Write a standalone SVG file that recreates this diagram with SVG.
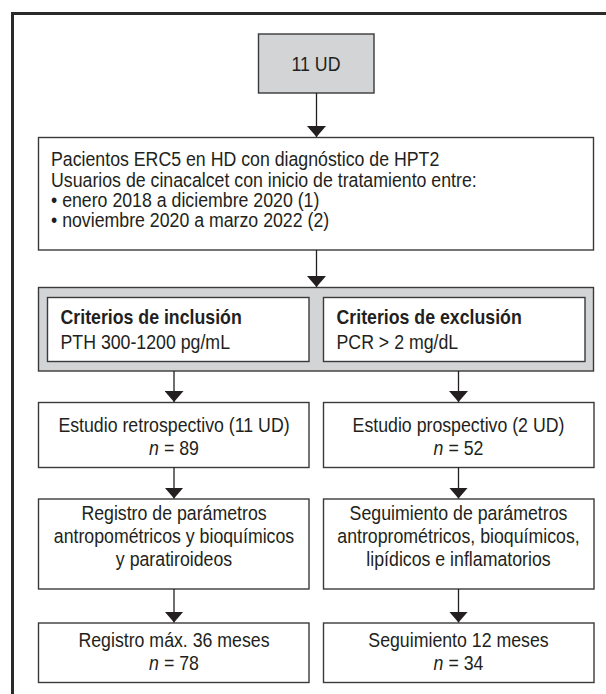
<svg xmlns="http://www.w3.org/2000/svg" width="606" height="694" viewBox="0 0 606 694">
<style>
text{font-family:"Liberation Sans",Arial,sans-serif;font-size:19.5px;fill:#231f20}
.c{text-anchor:middle}
.b{font-weight:bold}
.i{font-style:italic}
.box{fill:#fff;stroke:#3a3a3a;stroke-width:1.4}
.gray{fill:#d3d4d6;stroke:#3a3a3a;stroke-width:1.4}
.conn line{stroke:#231f20;stroke-width:1.3;marker-end:url(#ah)}
</style>
<defs>
<marker id="ah" markerUnits="userSpaceOnUse" viewBox="0 0 11 19" markerWidth="11" markerHeight="19" refX="11" refY="9.5" orient="auto">
<path d="M0,0 L11,9.5 L0,19 Z" fill="#231f20"/>
</marker>
</defs>
<rect width="606" height="694" fill="#fff"/>
<path d="M12.5,700 V13.5 H610" fill="none" stroke="#2a2a2a" stroke-width="3"/>
<g id="n-ud">
<rect class="gray" x="258.5" y="34" width="115.5" height="59"/>
<text class="c" transform="translate(316,71) scale(0.91,1)">11 UD</text>
</g>
<g id="n-pacientes">
<rect class="box" x="38.5" y="137.5" width="555" height="112.5"/>
<text transform="translate(51,166) scale(0.91,1)">Pacientos ERC5 en HD con diagnóstico de HPT2</text>
<text transform="translate(51,186.5) scale(0.91,1)">Usuarios de cinacalcet con inicio de tratamiento entre:</text>
<text transform="translate(51,207) scale(0.91,1)">• enero 2018 a diciembre 2020 (1)</text>
<text transform="translate(51,227) scale(0.91,1)">• noviembre 2020 a marzo 2022 (2)</text>
</g>
<g id="n-criterios">
<rect class="gray" x="38.5" y="287.5" width="555" height="83.5"/>
<g id="n-inclusion">
<rect class="box" x="47.5" y="297.5" width="261.5" height="64"/>
<text class="b" transform="translate(60.5,323.5) scale(0.91,1)">Criterios de inclusión</text>
<text transform="translate(60.5,348.5) scale(0.91,1)">PTH 300-1200 pg/mL</text>
</g>
<g id="n-exclusion">
<rect class="box" x="323.5" y="297.5" width="261.5" height="64"/>
<text class="b" transform="translate(336.5,323.5) scale(0.91,1)">Criterios de exclusión</text>
<text transform="translate(336.5,348.5) scale(0.91,1)">PCR &gt; 2 mg/dL</text>
</g>
</g>
<g id="n-retro">
<rect class="box" x="38.5" y="402.5" width="270.5" height="65"/>
<text class="c" transform="translate(174,431.5) scale(0.91,1)">Estudio retrospectivo (11 UD)</text>
<text class="c" transform="translate(174,455) scale(0.91,1)"><tspan class="i">n</tspan> = 89</text>
</g>
<g id="n-prosp">
<rect class="box" x="323.5" y="402.5" width="270.5" height="65"/>
<text class="c" transform="translate(458.5,431.5) scale(0.91,1)">Estudio prospectivo (2 UD)</text>
<text class="c" transform="translate(458.5,455) scale(0.91,1)"><tspan class="i">n</tspan> = 52</text>
</g>
<g id="n-registro">
<rect class="box" x="38.5" y="499" width="270.5" height="90"/>
<text class="c" transform="translate(174,520) scale(0.91,1)">Registro de parámetros</text>
<text class="c" transform="translate(174,543) scale(0.91,1)">antropométricos y bioquímicos</text>
<text class="c" transform="translate(174,566) scale(0.91,1)">y paratiroideos</text>
</g>
<g id="n-seguimiento">
<rect class="box" x="323.5" y="499" width="270.5" height="90"/>
<text class="c" transform="translate(458.5,520) scale(0.91,1)">Seguimiento de parámetros</text>
<text class="c" transform="translate(458.5,543) scale(0.91,1)">antroprométricos, bioquímicos,</text>
<text class="c" transform="translate(458.5,566) scale(0.91,1)">lipídicos e inflamatorios</text>
</g>
<g id="n-reg36">
<rect class="box" x="38.5" y="623" width="270.5" height="59.5"/>
<text class="c" transform="translate(174,647) scale(0.91,1)">Registro máx. 36 meses</text>
<text class="c" transform="translate(174,670) scale(0.91,1)"><tspan class="i">n</tspan> = 78</text>
</g>
<g id="n-seg12">
<rect class="box" x="323.5" y="623" width="270.5" height="59.5"/>
<text class="c" transform="translate(458.5,647) scale(0.91,1)">Seguimiento 12 meses</text>
<text class="c" transform="translate(458.5,670) scale(0.91,1)"><tspan class="i">n</tspan> = 34</text>
</g>
<g class="conn" id="connectors">
<line x1="316.5" y1="93" x2="316.5" y2="137"/>
<line x1="316.5" y1="250" x2="316.5" y2="287"/>
<line x1="174" y1="371" x2="174" y2="402"/>
<line x1="458.5" y1="371" x2="458.5" y2="402"/>
<line x1="174" y1="467.5" x2="174" y2="498.5"/>
<line x1="458.5" y1="467.5" x2="458.5" y2="498.5"/>
<line x1="174" y1="589" x2="174" y2="622.5"/>
<line x1="458.5" y1="589" x2="458.5" y2="622.5"/>
</g>
</svg>
